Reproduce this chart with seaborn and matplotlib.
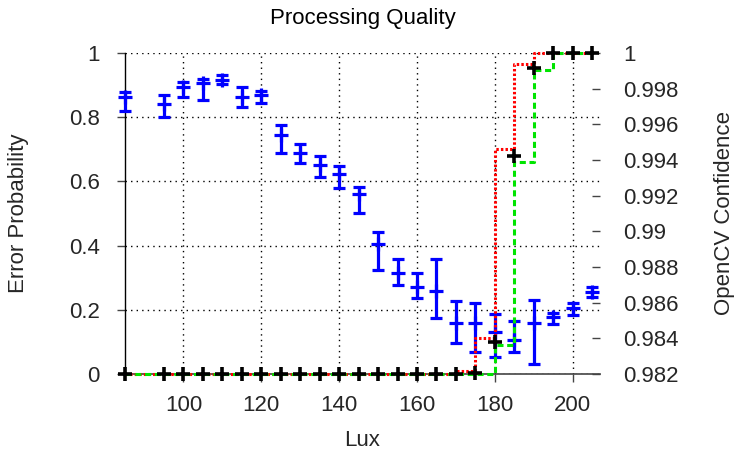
import numpy as np
import pandas as pd
import matplotlib
matplotlib.use("Agg")
import matplotlib.pyplot as plt
from matplotlib.ticker import FixedLocator, FuncFormatter
import seaborn as sns

# Illumination levels (lux)
lux = [85, 95, 100, 105, 110, 115, 120, 125, 130, 135, 140, 145,
       150, 155, 160, 165, 170, 175, 180, 185, 190, 195, 200, 205]

# Error probability: central value and the upper/lower ends of each bar
err_mid = [0.862, 0.840, 0.895, 0.907, 0.916, 0.864, 0.869, 0.745,
           0.689, 0.651, 0.623, 0.560, 0.405, 0.316, 0.272, 0.260,
           0.158, 0.158, 0.132, 0.105, 0.160, 0.179, 0.207, 0.256]
err_high = [0.878, 0.869, 0.909, 0.919, 0.930, 0.895, 0.882, 0.775,
            0.716, 0.679, 0.648, 0.583, 0.443, 0.357, 0.316, 0.358,
            0.227, 0.222, 0.188, 0.166, 0.231, 0.191, 0.220, 0.270]
err_low = [0.820, 0.801, 0.864, 0.854, 0.902, 0.833, 0.843, 0.689,
           0.656, 0.615, 0.579, 0.501, 0.324, 0.277, 0.236, 0.173,
           0.098, 0.069, 0.054, 0.068, 0.030, 0.156, 0.183, 0.241]

# OpenCV confidence: mean, maximum and minimum per illumination level
conf_mean = [0.982, 0.982, 0.982, 0.982, 0.982, 0.982, 0.982, 0.982,
             0.982, 0.982, 0.982, 0.982, 0.982, 0.982, 0.982, 0.982,
             0.982, 0.98204, 0.98381, 0.99424, 0.99918, 1.0, 1.0, 1.0]
conf_max = [0.982, 0.982, 0.982, 0.982, 0.982, 0.982, 0.982, 0.982,
            0.982, 0.982, 0.982, 0.982, 0.982, 0.982, 0.982, 0.982,
            0.982, 0.98215, 0.98402, 0.99462, 0.99938, 1.0, 1.0, 1.0]
conf_min = [0.982, 0.982, 0.982, 0.982, 0.982, 0.982, 0.982, 0.982,
            0.982, 0.982, 0.982, 0.982, 0.982, 0.982, 0.982, 0.982,
            0.982, 0.982, 0.98363, 0.99390, 0.99905, 1.0, 1.0, 1.0]

x_ticks = [100, 120, 140, 160, 180, 200]
left_ticks = [0, 0.2, 0.4, 0.6, 0.8, 1.0]
right_ticks = [0.982, 0.984, 0.986, 0.988, 0.990, 0.992, 0.994, 0.996, 0.998, 1.0]

sns.set_theme(style="white")
plt.rcParams["font.family"] = ["Liberation Sans", "DejaVu Sans"]
FS = 16
TXT = "#262626"

df = pd.DataFrame({"lux": lux, "mid": err_mid, "high": err_high, "low": err_low,
                   "cmean": conf_mean, "cmax": conf_max, "cmin": conf_min})

fig = plt.figure(figsize=(7.36, 4.54), dpi=100)
ax = fig.add_axes([125 / 736, 1 - 374 / 454, 475 / 736, 321 / 454])
ax2 = ax.twinx()

# error probability with asymmetric error bars (left axis)
yerr = np.vstack([df["mid"] - df["low"], df["high"] - df["mid"]])
ax.errorbar(df["lux"], df["mid"], yerr=yerr, fmt="+", color="#0000ff",
            ecolor="#0000ff", elinewidth=2.3, capsize=4.6, capthick=2.3,
            markersize=9.5, markeredgewidth=2.3, clip_on=False, zorder=3)

# confidence curves (right axis)
sns.lineplot(data=df, x="lux", y="cmax", ax=ax2, color="#ff0000",
             drawstyle="steps-pre", linewidth=2.2, estimator=None,
             dashes=False, clip_on=False, zorder=3)
ax2.lines[-1].set_dashes((0.8, 0.7))
sns.lineplot(data=df, x="lux", y="cmin", ax=ax2, color="#00e400",
             drawstyle="steps-post", linewidth=2.2, estimator=None,
             dashes=False, clip_on=False, zorder=4)
ax2.lines[-1].set_dashes((2.0, 1.2))
sns.scatterplot(data=df, x="lux", y="cmean", ax=ax2, marker="+", color="black",
                s=110, linewidth=2.6, clip_on=False, zorder=5)

ax.set_xlim(85, 207)
ax.set_ylim(0, 1)
ax2.set_ylim(0.982, 1.0)

ax.xaxis.set_major_locator(FixedLocator(x_ticks))
ax.yaxis.set_major_locator(FixedLocator(left_ticks))
ax2.yaxis.set_major_locator(FixedLocator(right_ticks))
fmt = FuncFormatter(lambda v, p: f"{round(v, 3):g}")
ax.yaxis.set_major_formatter(fmt)
ax2.yaxis.set_major_formatter(fmt)

ax.grid(True, color="black", linestyle=(0, (1, 3)), linewidth=1.0)

for s in ["top", "right"]:
    ax.spines[s].set_visible(False)
for s in ax2.spines.values():
    s.set_visible(False)
ax.spines["left"].set_color("black")
ax.spines["bottom"].set_color("#444444")
ax.spines["left"].set_linewidth(1.0)
ax.spines["bottom"].set_linewidth(1.2)

ax.tick_params(axis="x", direction="out", length=6, width=1, color="#444444",
               labelsize=FS, labelcolor=TXT, pad=9, bottom=True)
ax.tick_params(axis="y", direction="out", length=6, width=1, color="#444444",
               labelsize=FS, labelcolor=TXT, pad=12, left=True)
ax2.tick_params(axis="y", direction="in", length=6, width=1, color="#444444",
                labelsize=FS, labelcolor=TXT, pad=17, right=True)

ax.set_xlabel("Lux", fontsize=FS, color=TXT, labelpad=10)
ax.set_ylabel("Error Probability", fontsize=FS, color=TXT, labelpad=29)
ax2.set_ylabel("OpenCV Confidence", fontsize=FS, color=TXT, labelpad=25)
ax.set_title("Processing Quality", fontsize=FS, color="black", pad=21)
ax.set_zorder(ax2.get_zorder() - 1)
ax.patch.set_visible(True)
ax2.patch.set_visible(False)

fig.savefig("out.png", dpi=100, facecolor="white")
